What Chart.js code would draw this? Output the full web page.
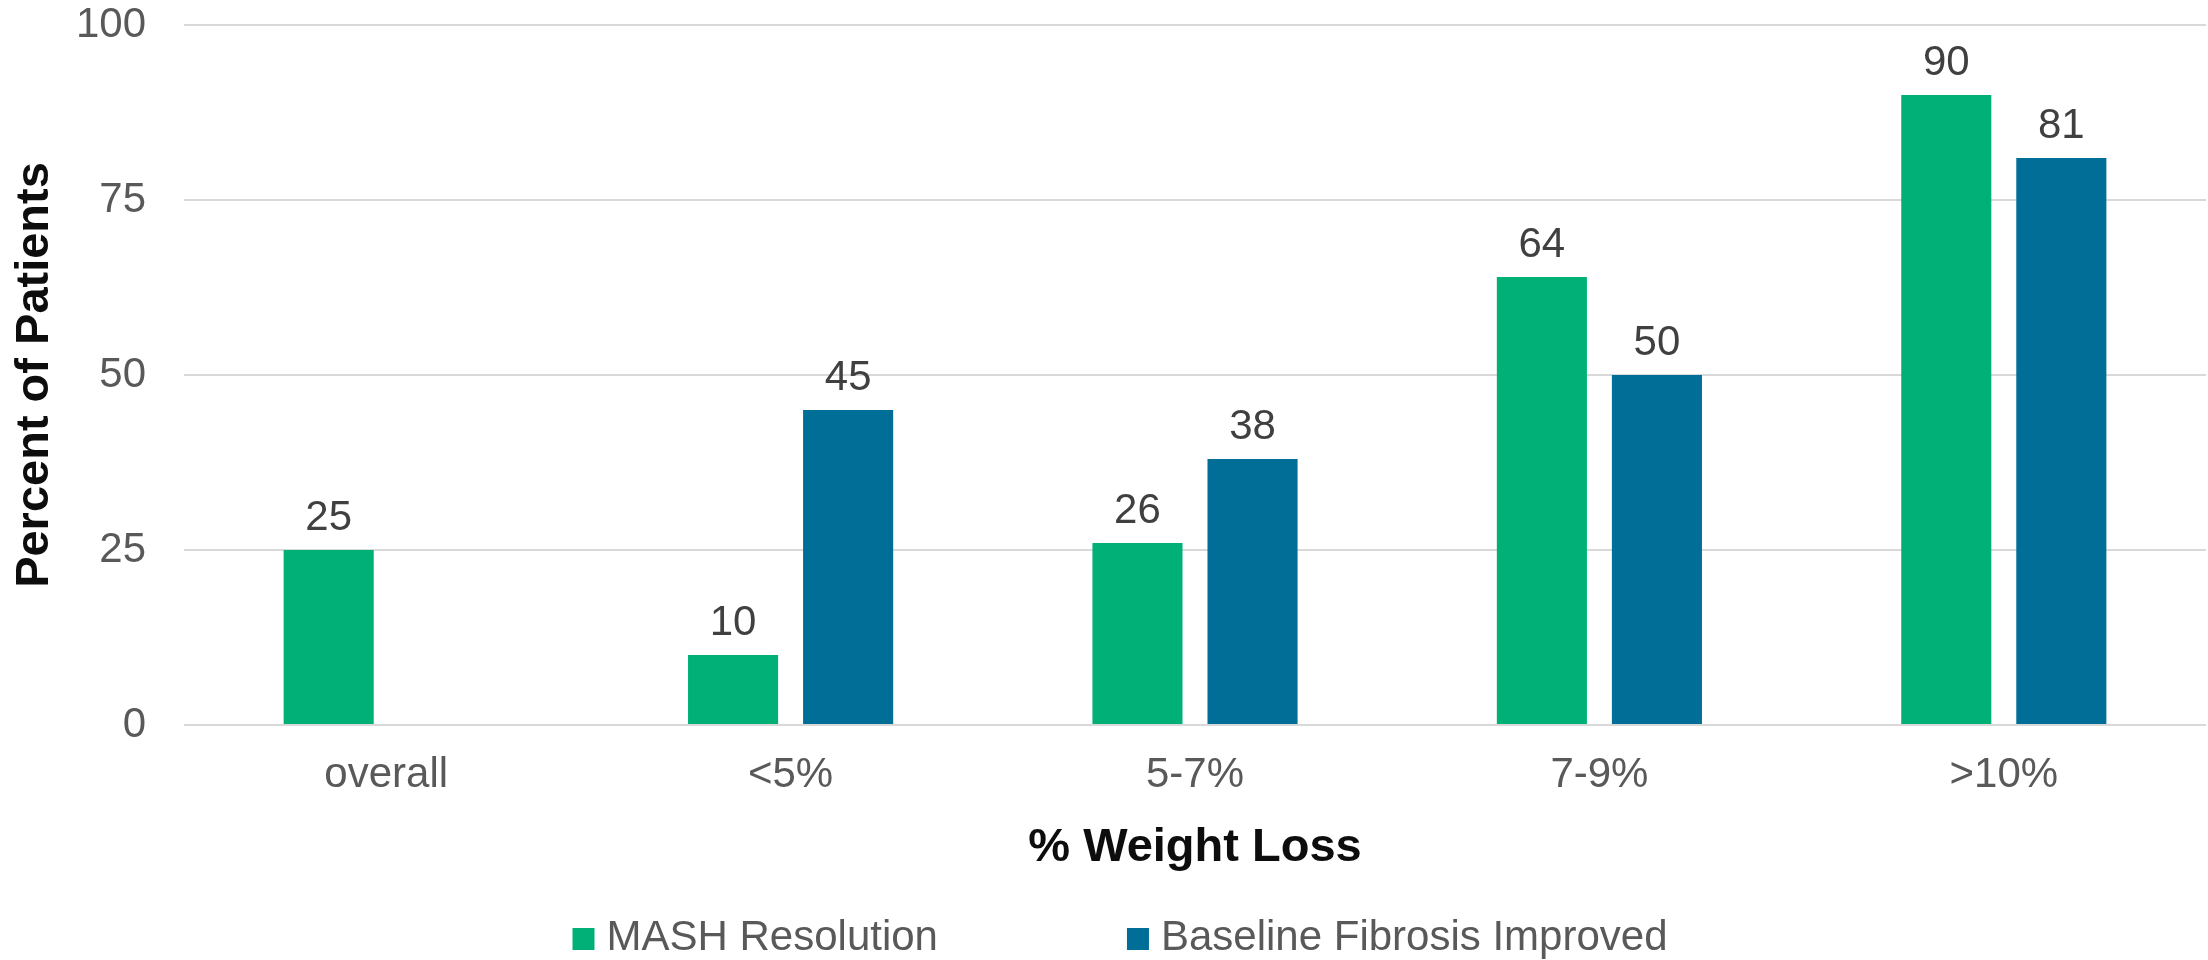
<!DOCTYPE html>
<html>
<head>
<meta charset="utf-8">
<title>MASH Resolution and Fibrosis Improvement by Weight Loss</title>
<script src="https://cdn.jsdelivr.net/npm/chart.js@4/dist/chart.umd.min.js"></script>
<style>
  html, body { margin: 0; padding: 0; background: #ffffff; }
  #wrap { width: 2208px; height: 960px; }
</style>
</head>
<body>
<div id="wrap"><canvas id="chart" width="2208" height="960"></canvas></div>
<script>
// Weight-loss bands on the x axis
const categories = ['overall', '<5%', '5-7%', '7-9%', '>10%'];

// Percent of patients per band
const mashResolution = [25, 10, 26, 64, 90];
const fibrosisImproved = [null, 45, 38, 50, 81];

const seriesNames = ['MASH Resolution', 'Baseline Fibrosis Improved'];
const seriesColors = ['#00B077', '#006E96'];

// Y axis ticks
const yTicks = [0, 25, 50, 75, 100];

const FONT = "'Liberation Sans', Arial, Helvetica, sans-serif";

// Value printed above each bar
const barValueLabels = {
  id: 'barValueLabels',
  afterDatasetsDraw(chart) {
    const ctx = chart.ctx;
    ctx.save();
    ctx.font = '42px ' + FONT;
    ctx.fillStyle = '#404040';
    ctx.textAlign = 'center';
    ctx.textBaseline = 'alphabetic';
    chart.data.datasets.forEach((ds, i) => {
      const meta = chart.getDatasetMeta(i);
      meta.data.forEach((bar, j) => {
        const v = ds.data[j];
        if (v === null || v === undefined) return;
        ctx.fillText(String(v), bar.x, bar.y - 20);
      });
    });
    ctx.restore();
  }
};

// Legend row below the axis title: square swatch + series name
const bottomLegend = {
  id: 'bottomLegend',
  afterDraw(chart) {
    const ctx = chart.ctx;
    const box = 22, boxGap = 12, itemGap = 189;
    const yMid = 939;
    ctx.save();
    ctx.font = '42px ' + FONT;
    ctx.textBaseline = 'middle';
    ctx.textAlign = 'left';
    const items = chart.data.datasets.map(ds => ({
      text: ds.label,
      color: ds.backgroundColor,
      w: box + boxGap + ctx.measureText(ds.label).width
    }));
    const total = items.reduce((s, it) => s + it.w, 0) + itemGap * (items.length - 1);
    const center = (chart.chartArea.left + chart.chartArea.right) / 2 - 75;
    let x = center - total / 2;
    items.forEach(it => {
      ctx.fillStyle = it.color;
      ctx.fillRect(x, yMid - box / 2, box, box);
      ctx.fillStyle = '#595959';
      ctx.fillText(it.text, x + box + boxGap, yMid - 1);
      x += it.w + itemGap;
    });
    ctx.restore();
  }
};

new Chart(document.getElementById('chart'), {
  type: 'bar',
  data: {
    labels: categories,
    datasets: [
      {
        label: seriesNames[0],
        data: mashResolution,
        backgroundColor: seriesColors[0],
        borderWidth: 0,
        categoryPercentage: 0.569,
        barPercentage: 0.783
      },
      {
        label: seriesNames[1],
        data: fibrosisImproved,
        backgroundColor: seriesColors[1],
        borderWidth: 0,
        categoryPercentage: 0.569,
        barPercentage: 0.783
      }
    ]
  },
  options: {
    responsive: false,
    animation: false,
    layout: { padding: { left: 0, right: 2, top: 25, bottom: 75 } },
    plugins: {
      legend: { display: false },
      tooltip: { enabled: false },
      title: { display: false }
    },
    scales: {
      x: {
        grid: { display: false, drawTicks: false },
        border: { display: false },
        ticks: {
          color: '#595959',
          font: { family: FONT, size: 42, lineHeight: 1.2 },
          padding: 25,
          maxRotation: 0,
          autoSkip: false
        },
        title: {
          display: true,
          text: '% Weight Loss',
          color: '#0D0D0D',
          font: { family: FONT, size: 47, weight: 'bold', lineHeight: 1.2 },
          padding: { top: 0, bottom: 9 }
        },
        afterFit(scale) { scale.height = 160; }
      },
      y: {
        min: 0,
        max: 100,
        // invisible tick marks give the gap between the labels and the plot
        grid: {
          color: '#D9D9D9',
          lineWidth: 2,
          drawTicks: true,
          tickLength: 38,
          tickColor: 'rgba(0,0,0,0)'
        },
        border: { display: false },
        afterBuildTicks(scale) { scale.ticks = yTicks.map(v => ({ value: v })); },
        ticks: {
          color: '#595959',
          font: { family: FONT, size: 42, lineHeight: 1 },
          padding: 0
        },
        title: {
          display: true,
          text: 'Percent of Patients',
          color: '#0D0D0D',
          font: { family: FONT, size: 47, weight: 'bold', lineHeight: 1.2 },
          padding: { top: 7, bottom: 0 }
        },
        afterFit(scale) { scale.width = 184; }
      }
    }
  },
  plugins: [barValueLabels, bottomLegend]
});
</script>
</body>
</html>
